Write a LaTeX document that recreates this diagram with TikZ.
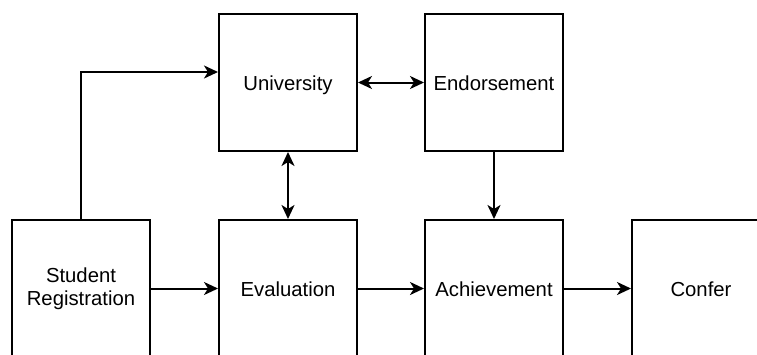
\documentclass[tikz,border=0pt]{standalone}
\usepackage{fontspec}
\setmainfont{Liberation Sans}
\usetikzlibrary{arrows.meta}
\newcommand{\boxstrut}{\rule[-4pt]{0pt}{23.5pt}}
\begin{document}
\begin{tikzpicture}[x=1pt,y=-1pt,
  box/.style={draw=black, line width=2pt, rectangle, minimum width=138pt, minimum height=137pt,
    align=center, font=\fontsize{20.3}{23.5}\selectfont, inner sep=0pt,
    execute at begin node=\boxstrut, execute at end node=\boxstrut},
  arr/.style={line width=2pt, -{Stealth[length=14pt,width=13pt,inset=4pt]}},
  darr/.style={line width=2pt, {Stealth[length=14pt,width=13pt,inset=4pt]}-{Stealth[length=14pt,width=13pt,inset=4pt]}}]
\useasboundingbox (0,0) rectangle (757,354);
\clip (0,0) rectangle (757,354);
\node[box] (univ) at (288,82.5) {University};
\node[box] (endo) at (494,82.5) {Endorsement};
\node[box] (sr) at (81,288.5) {Student\\Registration};
\node[box] (eval) at (288,288.5) {Evaluation};
\node[box] (ach) at (494,288.5) {Achievement};
\node[box] (conf) at (701,288.5) {Confer};
\draw[arr] (sr.north) |- ([yshift=10.5pt]univ.west);
\draw[darr] (univ.east) -- (endo.west);
\draw[darr] (univ.south) -- (eval.north);
\draw[arr] (endo.south) -- (ach.north);
\draw[arr] (sr.east) -- (eval.west);
\draw[arr] (eval.east) -- (ach.west);
\draw[arr] (ach.east) -- (conf.west);
\end{tikzpicture}
\end{document}
